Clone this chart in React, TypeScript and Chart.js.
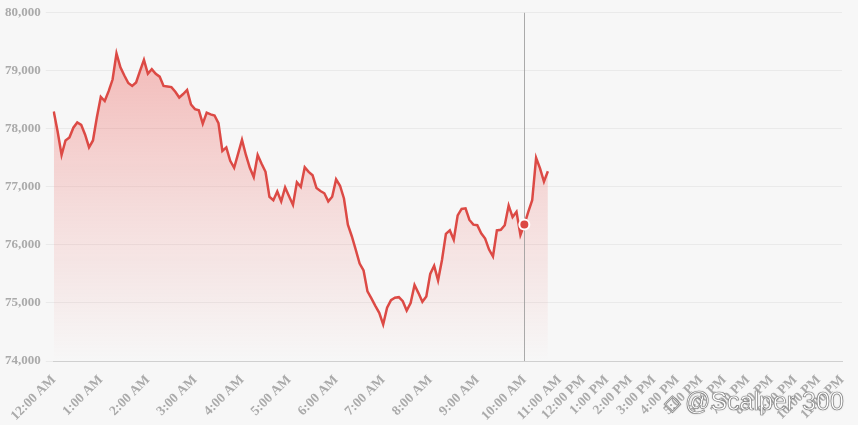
import React, { useEffect, useRef } from "react";
import { Chart, registerables } from "chart.js";

Chart.register(...registerables);

// Hour tick labels shown on the x axis
const HOUR_TICKS = [
  "12:00 AM", "1:00 AM", "2:00 AM", "3:00 AM", "4:00 AM", "5:00 AM",
  "6:00 AM", "7:00 AM", "8:00 AM", "9:00 AM", "10:00 AM", "11:00 AM",
  "12:00 PM", "1:00 PM", "2:00 PM", "3:00 PM", "4:00 PM", "5:00 PM",
  "6:00 PM", "7:00 PM", "8:00 PM", "9:00 PM", "10:00 PM", "11:00 PM",
];

// Price samples every 5 minutes from 12:00 AM to 10:30 AM
const PRICES_NIGHT = [
  78300, 77950, 77550, 77800, 77850, 78020, 78110, 78070, 77900, 77680,
  77800, 78200, 78550, 78480, 78650, 78850, 79300, 79060, 78920, 78790,
  78740, 78800, 79000, 79190, 78950, 79030, 78950, 78900, 78740, 78730,
  78720, 78640, 78540, 78600, 78670, 78420, 78340, 78320, 78090, 78280,
];
const PRICES_MORNING = [
  78250, 78230, 78100, 77620, 77680, 77450, 77330, 77570, 77810, 77550,
  77330, 77170, 77550, 77400, 77260, 76830, 76770, 76920, 76750, 76990,
  76840, 76690, 77080, 77000, 77340, 77260, 77200, 76980, 76930, 76890,
  76750, 76830, 77130, 77020, 76800, 76350, 76150, 75920, 75680, 75560,
  75200, 75080, 74950, 74830, 74630, 74920, 75050, 75090, 75100, 75030,
];
const PRICES_LATE = [
  74870, 75000, 75310, 75170, 75020, 75110, 75500, 75640, 75390, 75740,
  76190, 76250, 76090, 76510, 76620, 76630, 76430, 76350, 76340, 76200,
  76110, 75920, 75800, 76250, 76260, 76340, 76680, 76480, 76570, 76170,
  76350, 76570, 76770, 77500, 77320, 77090, 77270,
];

const Y_MIN = 74000;
const Y_MAX = 80000;
const Y_STEP = 1000;
const HOVER_INDEX = 120; // 10:00 AM

function fmt(mins: number): string {
  const h = Math.floor(mins / 60);
  const m = mins % 60;
  const ap = h < 12 ? "AM" : "PM";
  const hh = h % 12 === 0 ? 12 : h % 12;
  return `${hh}:${m < 10 ? "0" + m : m} ${ap}`;
}

const PRICES = [...PRICES_NIGHT, ...PRICES_MORNING, ...PRICES_LATE];

// category slots: 5-minute slots with data, then 10-minute future slots to 11:00 PM
const CATEGORIES: string[] = [];
for (let i = 0; i < PRICES.length; i++) CATEGORIES.push(fmt(i * 5));
for (let t = (PRICES.length - 1) * 5 + 10; t <= 23 * 60; t += 10) CATEGORIES.push(fmt(t));

const LINE = "#dc4a45";
const FONT = "'Liberation Serif', serif";

const crosshair = {
  id: "crosshair",
  afterDatasetsDraw(chart: any) {
    const meta = chart.getDatasetMeta(0);
    const el = meta.data[HOVER_INDEX];
    if (!el) return;
    const { ctx, chartArea } = chart;
    const x = Math.round(el.x) + 0.5;
    ctx.save();
    ctx.strokeStyle = "rgba(150,150,150,0.8)";
    ctx.lineWidth = 1;
    ctx.beginPath();
    ctx.moveTo(x, chartArea.top);
    ctx.lineTo(x, chartArea.bottom);
    ctx.stroke();
    ctx.beginPath();
    ctx.arc(el.x, el.y, 5, 0, Math.PI * 2);
    ctx.fillStyle = LINE;
    ctx.fill();
    ctx.lineWidth = 2;
    ctx.strokeStyle = "#ffffff";
    ctx.stroke();
    ctx.restore();
  },
};

export default function App() {
  const ref = useRef<HTMLCanvasElement>(null);
  useEffect(() => {
    document.body.style.margin = "0";
    document.body.style.background = "#f7f7f7";
    const canvas = ref.current!;
    const chart = new Chart(canvas, {
      type: "line",
      data: {
        labels: CATEGORIES,
        datasets: [
          {
            data: PRICES,
            borderColor: LINE,
            borderWidth: 2.5,
            pointRadius: 0,
            tension: 0,
            fill: "start",
            backgroundColor: (c: any) => {
              const area = c.chart.chartArea;
              if (!area) return "rgba(235,90,85,0.25)";
              const g = c.chart.ctx.createLinearGradient(0, area.top, 0, area.bottom);
              g.addColorStop(0, "rgba(236,85,80,0.42)");
              g.addColorStop(0.55, "rgba(236,85,80,0.17)");
              g.addColorStop(1, "rgba(236,85,80,0.0)");
              return g;
            },
          },
        ],
      },
      options: {
        animation: false,
        responsive: false,
        maintainAspectRatio: false,
        layout: { padding: { left: 0, right: 16, top: 7, bottom: 3 } },
        plugins: { legend: { display: false }, tooltip: { enabled: false } },
        scales: {
          x: {
            type: "category",
            grid: { display: false },
            border: { display: true, color: "#d0d0d0" },
            afterFit: (scale: any) => {
              scale.height = 61;
            },
            ticks: {
              autoSkip: false,
              minRotation: 45,
              maxRotation: 45,
              color: "#aaaaaa",
              font: { family: FONT, size: 13.5, weight: "bold" },
              callback: function (this: any, v: any) {
                const l = CATEGORIES[v];
                return HOUR_TICKS.includes(l) ? l : null;
              },
            },
          },
          y: {
            min: Y_MIN,
            max: Y_MAX,
            grid: { color: "rgba(0,0,0,0.05)", tickLength: 8 },
            border: { display: false },
            ticks: {
              stepSize: Y_STEP,
              padding: 5,
              color: "#aaaaaa",
              font: { family: FONT, size: 13, weight: "bold" },
              callback: (v: any) => Number(v).toLocaleString("en-US"),
            },
          },
        },
      } as any,
      plugins: [crosshair],
    });
    return () => chart.destroy();
  }, []);

  return (
    <div style={{ position: "relative", width: 858, height: 425, background: "#f7f7f7", overflow: "hidden" }}>
      <canvas ref={ref} width={858} height={425} style={{ display: "block" }} />
      <div
        style={{
          position: "absolute",
          left: 664,
          top: 386,
          fontFamily: "'Liberation Sans', Arial, sans-serif",
          fontSize: 25,
          lineHeight: "30px",
          color: "#ffffff",
          WebkitTextStroke: "0.7px rgba(110,110,110,0.85)",
          textShadow: "0 0 2px rgba(0,0,0,0.25)",
          whiteSpace: "nowrap",
          pointerEvents: "none",
        } as any}
      >
        <span style={{ fontSize: 22, marginRight: 4 }}>◇</span>@Scalper 300
      </div>
    </div>
  );
}
